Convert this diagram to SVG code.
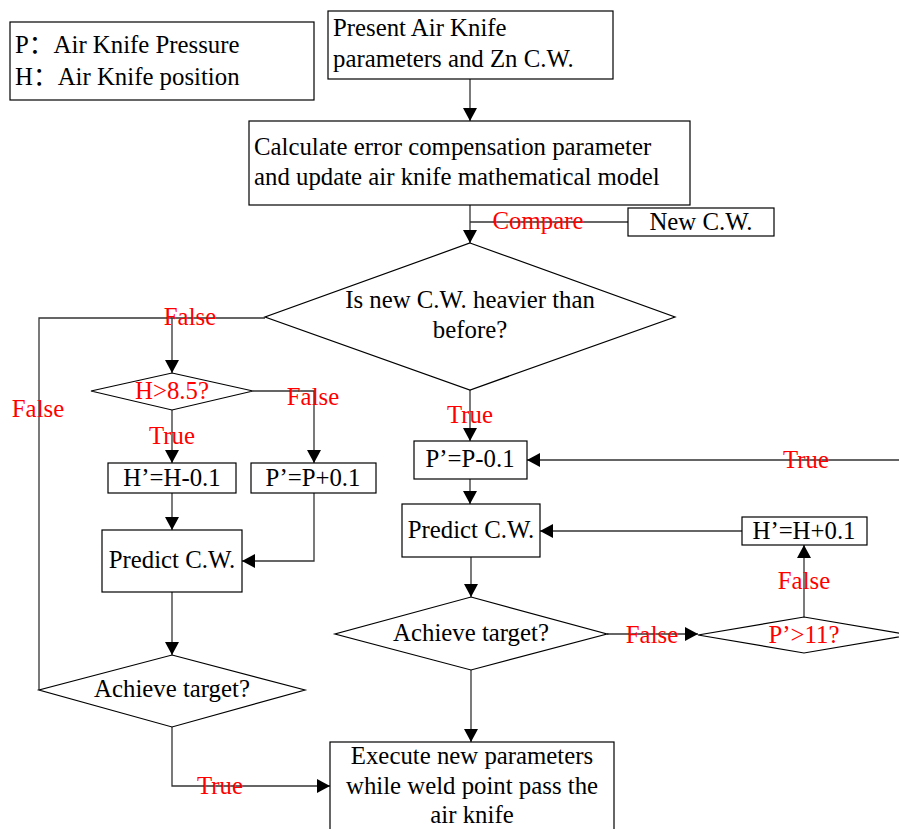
<svg xmlns="http://www.w3.org/2000/svg" width="899" height="829" viewBox="0 0 899 829">
<defs>
<marker id="arr" markerUnits="userSpaceOnUse" markerWidth="14" markerHeight="14" refX="13" refY="7" orient="auto">
<path d="M0,0 L13,7 L0,14 z" fill="#000"/>
</marker>
<style>
.box{fill:#fff;stroke:#000;stroke-width:1.2}
.t{font-family:"Liberation Serif","Noto Sans CJK SC",serif;font-size:24.8px;fill:#000}
.c{text-anchor:middle}
.r{font-family:"Liberation Serif","Noto Sans CJK SC",serif;font-size:24.8px;fill:#ff0000;text-anchor:middle}
.ln{fill:none;stroke:#333;stroke-width:1.3}
.ar{fill:none;stroke:#333;stroke-width:1.3;marker-end:url(#arr)}
</style>
</defs>
<rect width="899" height="829" fill="#fff"/>

<g id="connectors">
<path class="ar" d="M470,79 L470,121"/>
<path class="ar" d="M470,205 L470,243"/>
<path class="ln" d="M628,222 L470,222"/>
<path class="ar" d="M265,318 L172,318 L172,373"/>
<path class="ln" d="M39,690 L39,318 L172,318"/>
<path class="ar" d="M253,391 L314,391 L314,463"/>
<path class="ar" d="M172,410 L172,463"/>
<path class="ar" d="M172,493 L172,530"/>
<path class="ar" d="M314,493 L314,561 L242,561"/>
<path class="ar" d="M172,592 L172,655"/>
<path class="ar" d="M172,727 L172,786 L330,786"/>
<path class="ar" d="M470,390 L470,441"/>
<path class="ar" d="M470,479 L470,504"/>
<path class="ar" d="M742,531 L540,531"/>
<path class="ar" d="M471,557 L471,597"/>
<path class="ar" d="M607,634 L698,634"/>
<path class="ar" d="M804,617 L804,545"/>
<path class="ar" d="M910,635 L925,635 L925,460 L527,460"/>
<path class="ar" d="M471,670 L471,742"/>
</g>

<g id="legend">
<rect class="box" x="10" y="22" width="304" height="78"/>
<text class="t" x="15" y="53">P：Air Knife Pressure</text>
<text class="t" x="15" y="85">H：Air Knife position</text>
</g>

<g id="present">
<rect class="box" x="328" y="11" width="285" height="68"/>
<text class="t" x="333" y="36">Present Air Knife</text>
<text class="t" x="333" y="67">parameters and Zn C.W.</text>
</g>

<g id="calculate">
<rect class="box" x="249" y="121" width="441" height="84"/>
<text class="t" x="254" y="155">Calculate error compensation parameter</text>
<text class="t" x="254" y="185">and update air knife mathematical model</text>
</g>

<g id="newcw">
<rect class="box" x="628" y="208" width="146" height="28"/>
<text class="t c" x="701" y="230">New C.W.</text>
</g>

<g id="heavier">
<path class="box" d="M470,243 L675,317 L470,390 L265,317 Z"/>
<text class="t c" x="470" y="308">Is new C.W. heavier than</text>
<text class="t c" x="470" y="338">before?</text>
</g>

<g id="h85">
<path class="box" d="M172,373 L253,391 L172,410 L91,391 Z"/>
<text class="r" x="172" y="399">H&gt;8.5?</text>
</g>

<g id="hminus">
<rect class="box" x="108" y="463" width="128" height="30"/>
<text class="t c" x="172" y="486">H’=H-0.1</text>
</g>

<g id="pplus">
<rect class="box" x="251" y="463" width="125" height="30"/>
<text class="t c" x="313" y="486">P’=P+0.1</text>
</g>

<g id="predict-left">
<rect class="box" x="102" y="530" width="140" height="62"/>
<text class="t c" x="172" y="568">Predict C.W.</text>
</g>

<g id="achieve-left">
<path class="box" d="M172,655 L305,690 L172,727 L39,690 Z"/>
<text class="t c" x="172" y="697">Achieve target?</text>
</g>

<g id="pminus">
<rect class="box" x="414" y="441" width="113" height="38"/>
<text class="t c" x="470" y="467">P’=P-0.1</text>
</g>

<g id="predict-right">
<rect class="box" x="402" y="504" width="138" height="53"/>
<text class="t c" x="471" y="538">Predict C.W.</text>
</g>

<g id="hplus">
<rect class="box" x="742" y="517" width="125" height="28"/>
<text class="t c" x="804" y="539">H’=H+0.1</text>
</g>

<g id="achieve-right">
<path class="box" d="M471,597 L607,634 L471,670 L335,634 Z"/>
<text class="t c" x="471" y="641">Achieve target?</text>
</g>

<g id="p11">
<path class="box" d="M804,617 L910,635 L804,653 L698,635 Z"/>
<text class="r" x="804" y="643">P’&gt;11?</text>
</g>

<g id="execute">
<rect class="box" x="330" y="742" width="284" height="100"/>
<text class="t c" x="472" y="764">Execute new parameters</text>
<text class="t c" x="472" y="794">while weld point pass the</text>
<text class="t c" x="472" y="823">air knife</text>
</g>

<g id="labels">
<text class="r" x="538" y="229">Compare</text>
<text class="r" x="190" y="325">False</text>
<text class="r" x="38" y="417">False</text>
<text class="r" x="313" y="405">False</text>
<text class="r" x="172" y="444">True</text>
<text class="r" x="470" y="423">True</text>
<text class="r" x="806" y="468">True</text>
<text class="r" x="804" y="589">False</text>
<text class="r" x="652" y="643">False</text>
<text class="r" x="220" y="794">True</text>
</g>
</svg>
